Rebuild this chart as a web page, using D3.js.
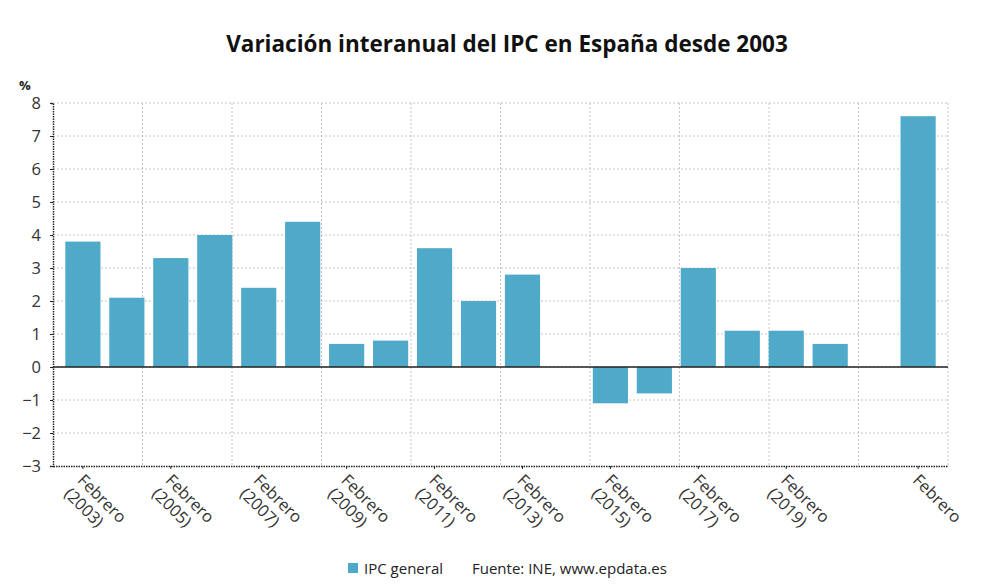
<!DOCTYPE html>
<html>
<head>
<meta charset="utf-8">
<script src="https://cdn.jsdelivr.net/npm/d3@7"></script>
<style>
  body { margin: 0; background: #fff; }
  svg { font-family: "Open Sans", "Noto Sans", sans-serif; }
</style>
</head>
<body>
<svg id="chart" width="1000" height="588"></svg>
<script>
"use strict";
// Datos: variacion interanual del IPC en febrero de cada ano
var years = [2003, 2004, 2005, 2006, 2007, 2008, 2009, 2010, 2011, 2012,
             2013, 2014, 2015, 2016, 2017, 2018, 2019, 2020, 2021, 2022];
var ipcValues = [3.8, 2.1, 3.3, 4.0, 2.4, 4.4, 0.7, 0.8, 3.6, 2.0,
                 2.8, 0.0, -1.1, -0.8, 3.0, 1.1, 1.1, 0.7, 0.0, 7.6];
var tickYears = [2003, 2005, 2007, 2009, 2011, 2013, 2015, 2017, 2019, 2022];
var tickLabels = [["Febrero", "(2003)"], ["Febrero", "(2005)"], ["Febrero", "(2007)"],
                  ["Febrero", "(2009)"], ["Febrero", "(2011)"], ["Febrero", "(2013)"],
                  ["Febrero", "(2015)"], ["Febrero", "(2017)"], ["Febrero", "(2019)"],
                  ["Febrero"]];
var yTicks = [-3, -2, -1, 0, 1, 2, 3, 4, 5, 6, 7, 8];

var svg = d3.select("#chart");
var plotLeft = 53, plotRight = 948, plotTop = 103, plotBottom = 466;
var barColor = "#4fa9c9";

var x = d3.scaleBand()
    .domain(years)
    .range([plotLeft, plotRight])
    .paddingInner(0.2)
    .paddingOuter(0.28);

var y = d3.scaleLinear()
    .domain([-3, 8])
    .range([plotBottom, plotTop]);

// titulo
svg.append("text")
    .attr("x", 507)
    .attr("y", 52)
    .attr("text-anchor", "middle")
    .style("font-size", "22.5px")
    .style("font-weight", "bold")
    .style("fill", "#111")
    .text("Variación interanual del IPC en España desde 2003");

svg.append("text")
    .attr("x", 19)
    .attr("y", 90)
    .style("font-size", "13px")
    .style("font-weight", "bold")
    .style("fill", "#222")
    .text("%");

// rejilla horizontal
svg.append("g")
    .selectAll("line")
    .data(yTicks.filter(function(d) { return d !== -3; }))
    .enter()
    .append("line")
      .attr("x1", plotLeft)
      .attr("x2", plotRight)
      .attr("y1", function(d) { return y(d); })
      .attr("y2", function(d) { return y(d); })
      .attr("stroke", "#c4c4c4")
      .attr("stroke-dasharray", "2,2");

// rejilla vertical, cada dos categorias
var vGrid = d3.range(1, 11).map(function(i) {
    return plotLeft + i * (plotRight - plotLeft) / 10;
});
svg.append("g")
    .selectAll("line")
    .data(vGrid)
    .enter()
    .append("line")
      .attr("x1", function(d) { return d; })
      .attr("x2", function(d) { return d; })
      .attr("y1", plotTop)
      .attr("y2", plotBottom)
      .attr("stroke", "#c4c4c4")
      .attr("stroke-dasharray", "2,2");

// barras
svg.append("g")
    .selectAll("rect")
    .data(years)
    .enter()
    .append("rect")
      .attr("x", function(d) { return x(d); })
      .attr("width", x.bandwidth())
      .attr("y", function(d, i) { return y(Math.max(0, ipcValues[i])); })
      .attr("height", function(d, i) { return Math.abs(y(ipcValues[i]) - y(0)); })
      .attr("fill", barColor);

// linea del cero
svg.append("line")
    .attr("x1", plotLeft)
    .attr("x2", plotRight)
    .attr("y1", y(0))
    .attr("y2", y(0))
    .attr("stroke", "#222")
    .attr("stroke-width", 1.5);

// eje y
var yAxis = svg.append("g")
    .attr("transform", "translate(" + plotLeft + ",0)")
    .call(d3.axisLeft(y).tickValues(yTicks).tickSize(3).tickPadding(9)
          .tickFormat(d3.format("d")));
yAxis.select(".domain")
    .attr("stroke", "#222")
    .attr("stroke-width", 1.5)
    .attr("stroke-dasharray", "1.5,1");
yAxis.selectAll(".tick line").attr("stroke", "#222");
yAxis.selectAll(".tick text")
    .style("font-size", "16.5px")
    .style("fill", "#333")
    .style("font-family", "'Open Sans', sans-serif");

// eje x
var xAxis = svg.append("g")
    .attr("transform", "translate(0," + plotBottom + ")")
    .call(d3.axisBottom(x).tickValues(tickYears).tickSize(3).tickSizeOuter(0)
          .tickFormat(""));
xAxis.select(".domain")
    .attr("stroke", "#222")
    .attr("stroke-width", 1.5)
    .attr("stroke-dasharray", "1.5,1");
xAxis.selectAll(".tick line").attr("stroke", "#222");

svg.append("g")
    .selectAll("text")
    .data(tickYears)
    .enter()
    .append("text")
      .attr("transform", function(d) {
          return "translate(" + (x(d) + x.bandwidth() / 2 + 2) + "," +
                 (plotBottom + 7) + ") rotate(45)";
      })
      .style("font-size", "16.5px")
      .style("fill", "#333")
      .each(function(d, i) {
          var t = d3.select(this);
          tickLabels[i].forEach(function(line, j) {
              t.append("tspan")
                .attr("x", 0)
                .attr("dy", j === 0 ? "0.71em" : "1.15em")
                .text(line);
          });
      });

// leyenda
svg.append("rect")
    .attr("x", 348)
    .attr("y", 563)
    .attr("width", 10)
    .attr("height", 10)
    .attr("fill", barColor);
svg.append("text")
    .attr("x", 364)
    .attr("y", 574)
    .style("font-size", "15px")
    .style("fill", "#222")
    .text("IPC general");
svg.append("text")
    .attr("x", 472)
    .attr("y", 574)
    .style("font-size", "15px")
    .style("fill", "#222")
    .text("Fuente: INE, www.epdata.es");
</script>
</body>
</html>
